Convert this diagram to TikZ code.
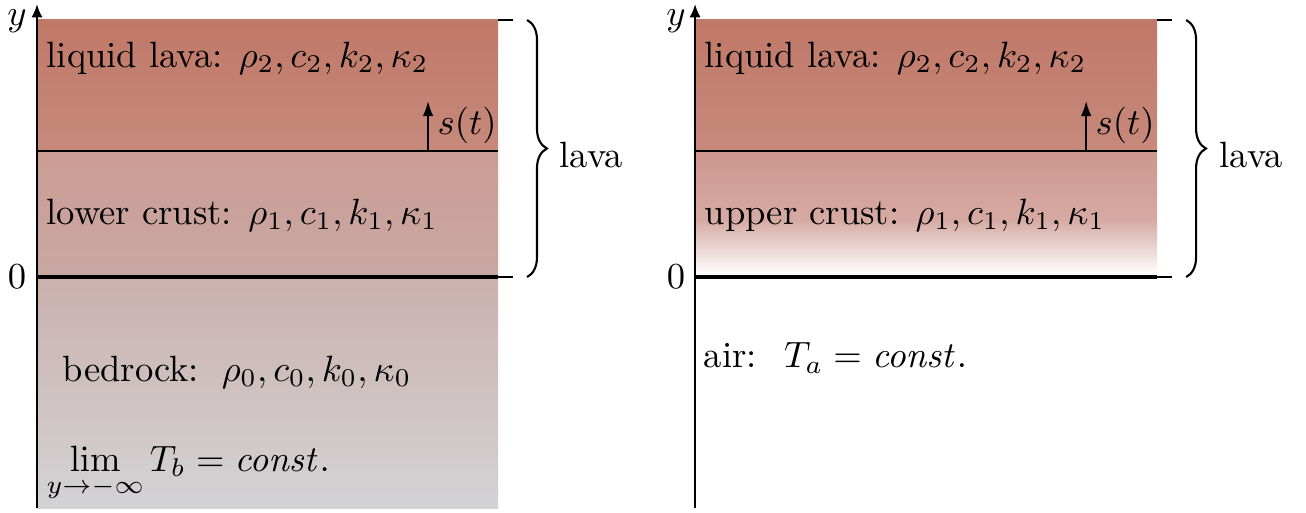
\documentclass[tikz,border=0pt]{standalone}
\usetikzlibrary{decorations.pathreplacing,arrows.meta}
\definecolor{lavaA}{RGB}{192,120,104}
\definecolor{lavaB}{RGB}{198,138,124}
\definecolor{crustA}{RGB}{203,156,148}
\definecolor{crustB}{RGB}{201,168,163}
\definecolor{bedA}{RGB}{203,176,174}
\definecolor{bedB}{RGB}{211,211,213}
\definecolor{ucrustA}{RGB}{205,150,141}
\definecolor{ucrustB}{RGB}{214,170,163}
\tikzset{
  lbl/.style={anchor=west, inner sep=0pt},
  axisline/.style={line width=0.8pt, -{Latex[length=4.5pt,width=3.8pt]}},
  thinline/.style={line width=0.6pt},
  thickline/.style={line width=1.3pt},
  bracestyle/.style={decorate, decoration={brace, amplitude=6.6pt}, line width=0.7pt},
}
\begin{document}
\begin{tikzpicture}[x=0.27322pt, y=-0.27322pt, scale=1.22, every node/.append style={transform shape}]
\useasboundingbox (0,0) rectangle (1306,513);
% ---------- left panel ----------
\shade[top color=lavaA, bottom color=lavaB] (37,20) rectangle (498,151);
\shade[top color=crustA, bottom color=crustB] (37,151) rectangle (498,277);
\shade[top color=bedA, bottom color=bedB] (37,277) rectangle (498,508);
\coordinate (Lax0) at (37,508);
\coordinate (Laxt) at (37,4);
\draw[axisline] (Lax0) -- (Laxt);
\node[inner sep=0pt] (Ly) at (17,21) {$y$};
\node[inner sep=0pt] (L0) at (17,277) {$0$};
\coordinate (Ls1) at (37,151); \coordinate (Ls2) at (498,151);
\draw[thinline] (Ls1) -- (Ls2);
\coordinate (Lz1) at (37,277); \coordinate (Lz2) at (498,277); \coordinate (Lz3) at (513,277);
\draw[thickline] (Lz1) -- (Lz2);
\draw[thinline] (Lz2) -- (Lz3);
\coordinate (Lt1) at (498,20); \coordinate (Lt2) at (513,20);
\draw[thinline] (Lt1) -- (Lt2);
\coordinate (Lst0) at (428,151); \coordinate (Lst1) at (428,101);
\draw[thinline, -{Latex[length=5pt,width=3.5pt]}] (Lst0) -- (Lst1);
\node[lbl] (Lstl) at (437,125) {$s(t)$};
\node[lbl] (Lliq) at (46,58) {liquid lava: $\rho_2, c_2, k_2, \kappa_2$};
\node[lbl] (Lcr) at (46,215) {lower crust: $\rho_1, c_1, k_1, \kappa_1$};
\node[lbl] (Lbed) at (62,372) {bedrock:\hspace{6.2pt}$\rho_0, c_0, k_0, \kappa_0$};
\node[lbl] (Llim) at (46,474) {$\displaystyle\lim_{y\to-\infty} T_b = \mathit{const.}$};
\coordinate (Lb1) at (527,20); \coordinate (Lb2) at (527,277);
\draw[bracestyle] (Lb1) -- (Lb2);
\node[lbl] (Llava) at (559,155) {lava};
% ---------- right panel ----------
\shade[top color=lavaA, bottom color=lavaB] (695,20) rectangle (1157,151);
\shade[top color=ucrustA, bottom color=ucrustB] (695,151) rectangle (1157,220);
\shade[top color=ucrustB, bottom color=white] (695,220) rectangle (1157,275);
\coordinate (Rax0) at (695,508);
\coordinate (Raxt) at (695,4);
\draw[axisline] (Rax0) -- (Raxt);
\node[inner sep=0pt] (Ry) at (676,21) {$y$};
\node[inner sep=0pt] (R0) at (676,277) {$0$};
\coordinate (Rs1) at (695,151); \coordinate (Rs2) at (1157,151);
\draw[thinline] (Rs1) -- (Rs2);
\coordinate (Rz1) at (695,277); \coordinate (Rz2) at (1157,277); \coordinate (Rz3) at (1172,277);
\draw[thickline] (Rz1) -- (Rz2);
\draw[thinline] (Rz2) -- (Rz3);
\coordinate (Rt1) at (1157,20); \coordinate (Rt2) at (1172,20);
\draw[thinline] (Rt1) -- (Rt2);
\coordinate (Rst0) at (1086,151); \coordinate (Rst1) at (1086,101);
\draw[thinline, -{Latex[length=5pt,width=3.5pt]}] (Rst0) -- (Rst1);
\node[lbl] (Rstl) at (1095,125) {$s(t)$};
\node[lbl] (Rliq) at (704,58) {liquid lava: $\rho_2, c_2, k_2, \kappa_2$};
\node[lbl] (Rcr) at (704,215) {upper crust: $\rho_1, c_1, k_1, \kappa_1$};
\node[lbl] (Rair) at (703,358) {air:\hspace{7.5pt}$T_a = \mathit{const.}$};
\coordinate (Rb1) at (1186,20); \coordinate (Rb2) at (1186,277);
\draw[bracestyle] (Rb1) -- (Rb2);
\node[lbl] (Rlava) at (1219,155) {lava};
\end{tikzpicture}
\end{document}
